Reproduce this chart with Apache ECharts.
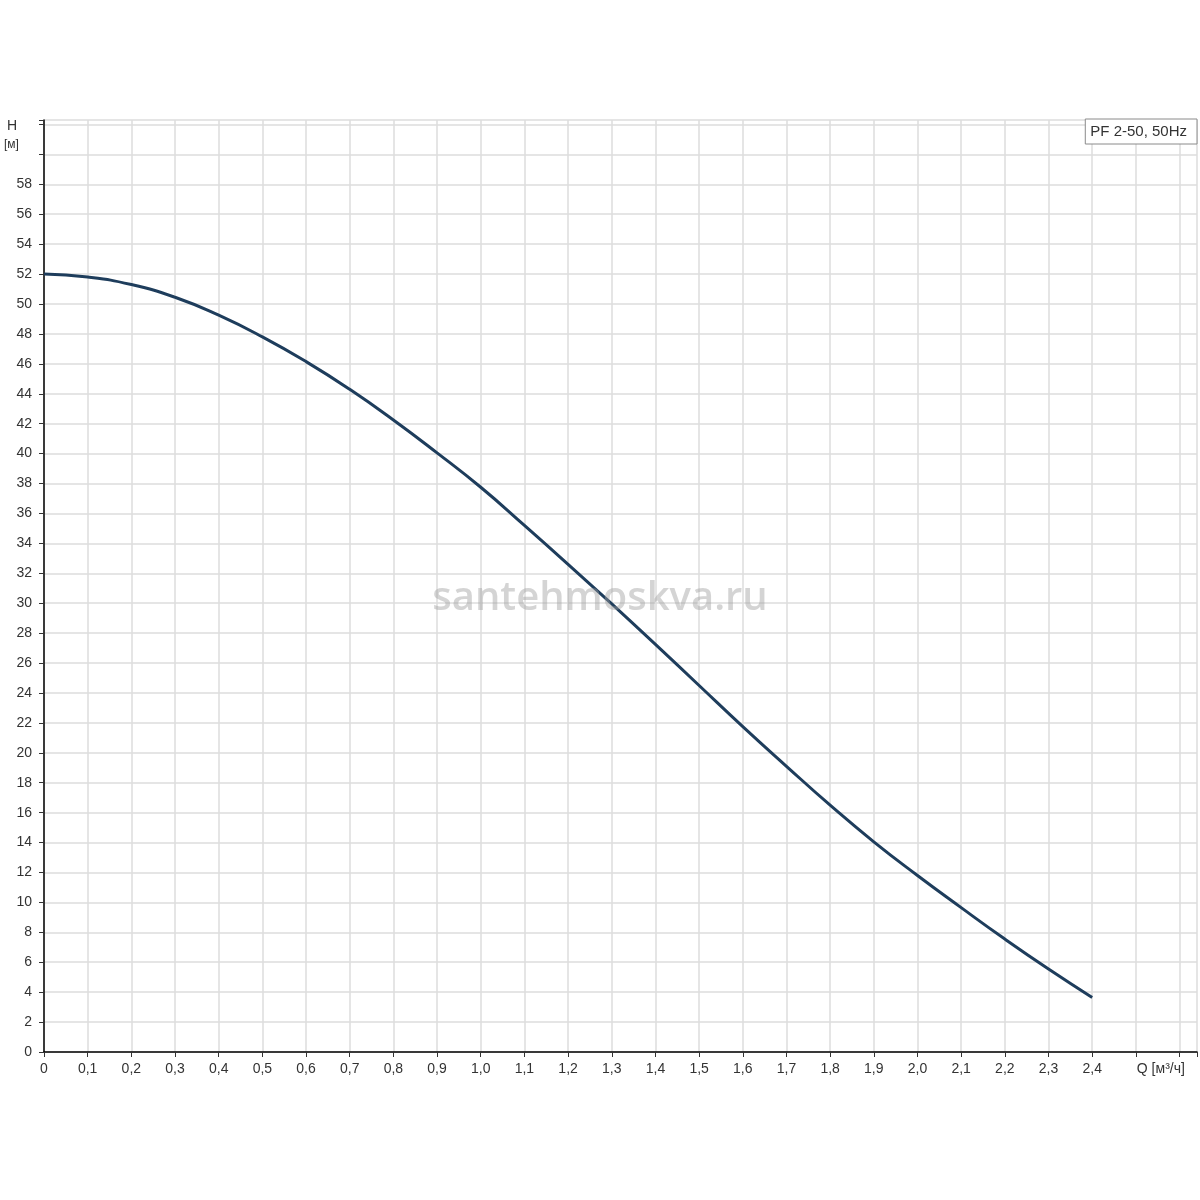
<!DOCTYPE html>
<html>
<head>
<meta charset="utf-8">
<title>PF 2-50, 50Hz</title>
<script src="https://cdn.jsdelivr.net/npm/echarts@6/dist/echarts.min.js"></script>
<style>
  html, body { margin: 0; padding: 0; background: #fff; }
  #chart { width: 1200px; height: 1200px; }
</style>
</head>
<body>
<div id="chart"></div>
<script>
// данные кривой насоса
const seriesName = 'PF 2-50, 50Hz';
const flowQ = [0, 0.1, 0.2, 0.3, 0.4, 0.5, 0.6, 0.7, 0.8, 0.9, 1.0, 1.1, 1.2,
               1.3, 1.4, 1.5, 1.6, 1.7, 1.8, 1.9, 2.0, 2.1, 2.2, 2.3, 2.4];
const headH = [52.0, 51.8, 51.3, 50.45, 49.25, 47.8, 46.15, 44.3, 42.25, 40.05, 37.75, 35.2, 32.6,
               29.95, 27.25, 24.5, 21.75, 19.1, 16.5, 14.05, 11.8, 9.65, 7.55, 5.55, 3.65];
const xUnitLabel = 'Q [м³/ч]';
const yName = 'H';
const yUnit = '[м]';
const watermark = 'santehmoskva.ru';

let chart = echarts.init(document.getElementById('chart'));

const labelFont = 'Liberation Sans, Arial, sans-serif';
const gridColor = '#dcdcdc';

let points = flowQ.map((q, i) => [q, headH[i]]);

let option = {
    animation: false,
    backgroundColor: '#fff',
    grid: {
        left: 44,
        right: 2,
        top: 120,
        bottom: 148,
        show: false
    },
    legend: {
        data: [seriesName],
        icon: 'none',
        itemWidth: 0,
        itemHeight: 0,
        right: 3,
        top: 119,
        padding: [5, 10, 5, 0],
        backgroundColor: '#fff',
        borderColor: '#8a8a8a',
        borderWidth: 1,
        textStyle: { color: '#333', fontSize: 15, fontFamily: labelFont, padding: 0 }
    },
    xAxis: {
        type: 'value',
        min: 0,
        max: 2.64,
        interval: 0.1,
        axisLine: { onZero: false, lineStyle: { color: '#000', width: 1.5 } },
        axisTick: { show: true, length: 5, lineStyle: { color: '#333' } },
        splitLine: { show: true, lineStyle: { color: gridColor, width: 1.5 } },
        axisLabel: {
            color: '#333',
            fontSize: 14,
            fontFamily: labelFont,
            margin: 10,
            showMaxLabel: true,
            formatter: function (v) {
                if (v <= 2.4 + 1e-9) {
                    return v === 0 ? '0' : v.toFixed(1).replace('.', ',');
                }
                if (Math.abs(v - 2.5) < 1e-6) {
                    return '{q|' + xUnitLabel + '}';
                }
                return '';
            },
            rich: {
                q: { color: '#333', fontSize: 14, fontFamily: labelFont, padding: [0, 0, 0, 50] }
            }
        }
    },
    yAxis: {
        type: 'value',
        min: 0,
        max: 62.3,
        interval: 2,
        axisLine: { show: true, lineStyle: { color: '#000', width: 1.5 } },
        axisTick: { show: true, length: 5, lineStyle: { color: '#333' } },
        splitLine: { show: true, lineStyle: { color: gridColor, width: 1.5 } },
        axisLabel: {
            color: '#333',
            fontSize: 14,
            fontFamily: labelFont,
            margin: 12,
            formatter: function (v) {
                return v <= 58 ? String(v) : '';
            }
        }
    },
    graphic: [
        {
            type: 'text',
            left: 7,
            top: 119,
            style: { text: yName, fill: '#333', font: '14px ' + labelFont }
        },
        {
            type: 'text',
            left: 4,
            top: 139,
            style: { text: yUnit, fill: '#333', font: '12px ' + labelFont }
        },
        {
            // водяной знак
            type: 'text',
            left: 'center',
            top: 579,
            z: 100,
            style: {
                text: watermark,
                fill: 'rgba(160,160,160,0.45)',
                font: '600 40px "Open Sans", sans-serif'
            }
        }
    ],
    series: [{
        name: seriesName,
        type: 'line',
        data: points,
        smooth: 0.5,
        symbol: 'none',
        lineStyle: { color: '#1e3d5c', width: 3 },
        itemStyle: { color: '#1e3d5c' }
    }]
};

chart.setOption(option);
</script>
</body>
</html>
